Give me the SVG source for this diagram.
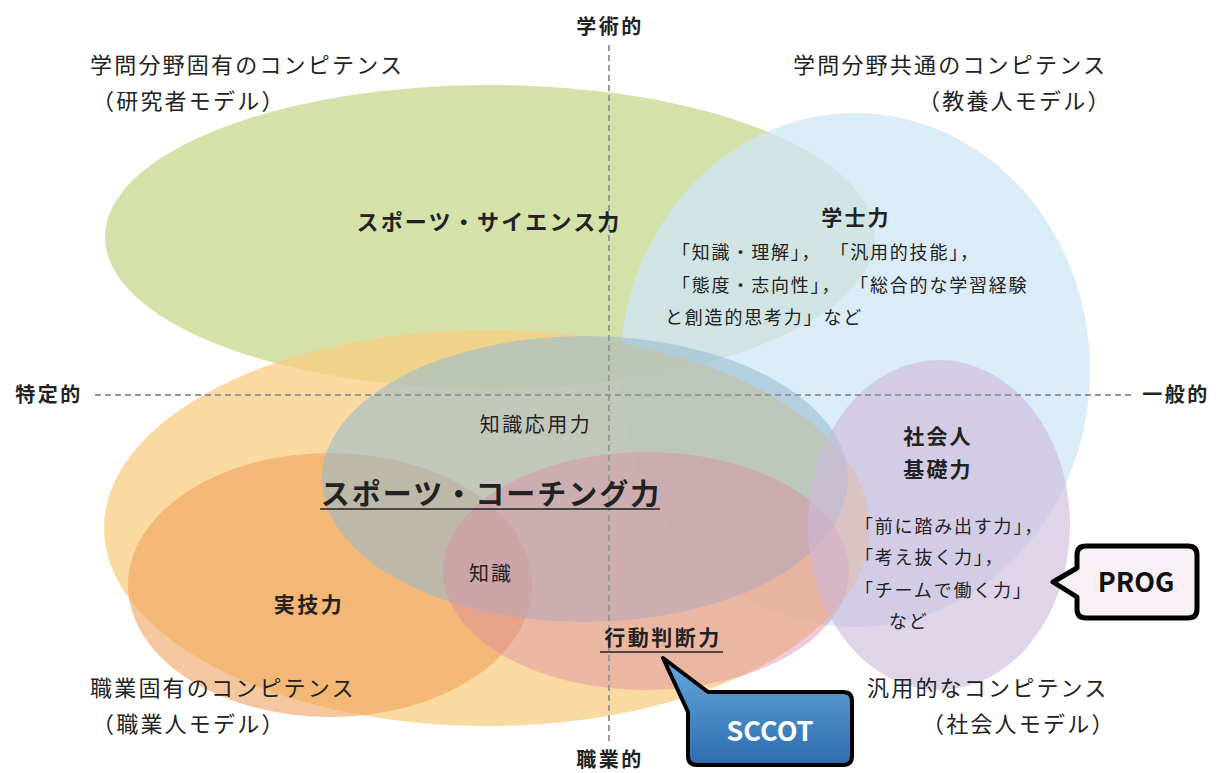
<svg xmlns="http://www.w3.org/2000/svg" width="1219" height="773" viewBox="0 0 1219 773">
<defs>
<style>
text{font-family:"Noto Sans CJK JP","Noto Sans",sans-serif;fill:#222;}
.lbl{font-size:22px;letter-spacing:2.2px;}
.b{font-weight:bold;}
.ax{font-size:20px;font-weight:bold;letter-spacing:2.5px;}
.sm{font-size:18px;letter-spacing:1.8px;}
.axis{stroke:#999;stroke-width:2;stroke-dasharray:6 4;fill:none;}
.ul{stroke:#222;stroke-width:1.5;}
</style>
<linearGradient id="blueg" x1="0" y1="0" x2="0" y2="1">
<stop offset="0" stop-color="#65a8de"/>
<stop offset="1" stop-color="#2e6cae"/>
</linearGradient>
</defs>
<rect width="1219" height="773" fill="#fff"/>

<g id="academic-specific">
<ellipse cx="490" cy="237" rx="385" ry="152" fill="#c3d586" fill-opacity="0.72"/>
</g>
<g id="academic-general">
<ellipse cx="855" cy="370" rx="235" ry="257" fill="#cfe5f7" fill-opacity="0.75"/>
</g>
<g id="vocational-specific">
<ellipse cx="487" cy="528" rx="383" ry="198" fill="#f9cd82" fill-opacity="0.75"/>
</g>
<g id="practical">
<ellipse cx="330" cy="585" rx="202" ry="132" fill="#ee9f58" fill-opacity="0.58"/>
</g>
<g id="applied">
<ellipse cx="585" cy="479" rx="263" ry="143" fill="#92b9d2" fill-opacity="0.55"/>
</g>
<g id="judgement">
<ellipse cx="646" cy="571" rx="203" ry="119" fill="#d98ca4" fill-opacity="0.45"/>
</g>
<g id="social">
<ellipse cx="939" cy="525" rx="131" ry="165" fill="#cbb7db" fill-opacity="0.6"/>
</g>

<g id="connectors">
<line class="axis" x1="609" y1="45" x2="609" y2="745"/>
<line class="axis" x1="95" y1="395" x2="1132" y2="395"/>
</g>

<g id="axis-labels">
<text class="ax" x="610" y="34" text-anchor="middle">学術的</text>
<text class="ax" x="610" y="767" text-anchor="middle">職業的</text>
<text class="ax" x="49" y="402" text-anchor="middle">特定的</text>
<text class="ax" x="1176" y="402" text-anchor="middle">一般的</text>
</g>

<g id="corner-labels">
<text class="lbl" x="90" y="73">学問分野固有のコンピテンス</text>
<text class="lbl" x="92" y="109">（研究者モデル）</text>
<text class="lbl" x="793" y="73">学問分野共通のコンピテンス</text>
<text class="lbl" x="918" y="109">（教養人モデル）</text>
<text class="lbl" x="90" y="696">職業固有のコンピテンス</text>
<text class="lbl" x="92" y="732">（職業人モデル）</text>
<text class="lbl" x="867" y="696">汎用的なコンピテンス</text>
<text class="lbl" x="922" y="732">（社会人モデル）</text>
</g>

<g id="label-sports-science">
<text class="lbl b" x="489" y="230" text-anchor="middle">スポーツ・サイエンス力</text>
</g>
<g id="label-gakushi">
<text class="lbl b" x="856" y="225" text-anchor="middle" style="font-size:21px">学士力</text>
<text class="sm" x="672" y="259">「知識・理解」，<tspan dx="18">「汎用的技能」，</tspan></text>
<text class="sm" x="672" y="292">「態度・志向性」，<tspan dx="18">「総合的な学習経験</tspan></text>
<text class="sm" x="665" y="324">と創造的思考力」など</text>
</g>
<g id="label-applied">
<text class="sm" x="536" y="432" text-anchor="middle" style="font-size:20px;letter-spacing:2.5px">知識応用力</text>
</g>
<g id="label-coaching">
<text class="b" x="491" y="505" text-anchor="middle" style="font-size:29px;letter-spacing:2px">スポーツ・コーチング力</text>
<line class="ul" x1="320" y1="509" x2="660" y2="509"/>
</g>
<g id="label-knowledge">
<text class="sm" x="491" y="581" text-anchor="middle" style="font-size:20px;letter-spacing:2px">知識</text>
</g>
<g id="label-practical">
<text class="sm b" x="309" y="612" text-anchor="middle" style="font-size:21px;letter-spacing:2.5px">実技力</text>
</g>
<g id="label-judgement">
<text class="sm b" x="663" y="645" text-anchor="middle" style="font-size:21px;letter-spacing:2.5px">行動判断力</text>
<line class="ul" x1="600" y1="652" x2="723" y2="652"/>
</g>
<g id="label-social">
<text class="lbl b" x="938" y="444" text-anchor="middle" style="font-size:21px">社会人</text>
<text class="lbl b" x="938" y="477" text-anchor="middle" style="font-size:21px">基礎力</text>
<text class="sm" x="855" y="533">「前に踏み出す力」，</text>
<text class="sm" x="855" y="564">「考え抜く力」，</text>
<text class="sm" x="855" y="597">「チームで働く力」</text>
<text class="sm" x="889" y="628">など</text>
</g>

<g id="callout-prog">
<path d="M1086,546 L1188,546 Q1197,546 1197,555 L1197,609 Q1197,618 1188,618 L1086,618 Q1077,618 1077,609 L1077,597 L1053,582 L1077,568 L1077,555 Q1077,546 1086,546 Z" fill="#f8f0f5" stroke="#000" stroke-width="5" stroke-linejoin="round"/>
<text class="b" x="1136" y="592" text-anchor="middle" style="font-size:27px;fill:#111">PROG</text>
</g>
<g id="callout-sccot">
<path d="M708,692 L843,692 Q852,692 852,701 L852,756 Q852,765 843,765 L697,765 Q688,765 688,756 L688,712 L663,658 Z" fill="url(#blueg)" stroke="#000" stroke-width="4" stroke-linejoin="round"/>
<text class="b" x="770" y="741" text-anchor="middle" style="font-size:27px;fill:#fff">SCCOT</text>
</g>
</svg>
